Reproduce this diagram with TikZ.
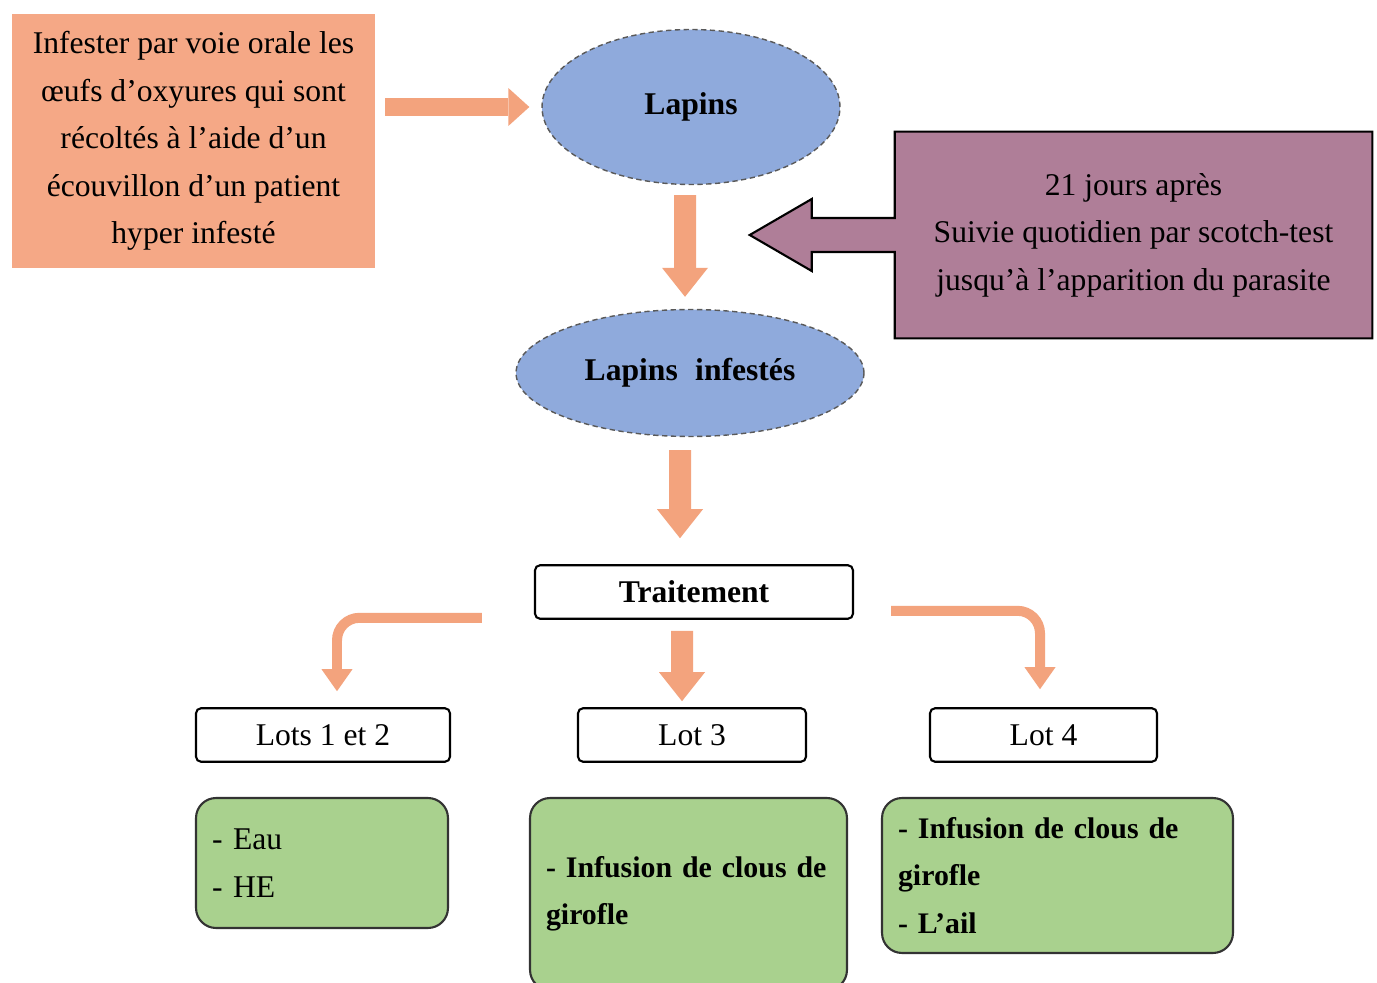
\documentclass[tikz,border=0pt]{standalone}
\usepackage{fontspec}
\setmainfont{Liberation Serif}
\usetikzlibrary{arrows.meta,shapes.geometric}

\definecolor{salmon}{HTML}{F5A886}
\definecolor{arrowfill}{HTML}{F3A37D}
\definecolor{bluefill}{HTML}{8FAADC}
\definecolor{mauve}{HTML}{AF7E98}
\definecolor{leaf}{HTML}{A9D18E}

\tikzset{
  txt/.style={font=\fontsize{18}{27}\selectfont},
  rabbit/.style={ellipse, fill=bluefill, draw=gray!70!black, densely dashed, line width=0.8pt, font=\fontsize{18}{27}\selectfont\bfseries},
  stagebox/.style={txt, rectangle, rounded corners=0.1cm, draw=black, line width=1.2pt, fill=white, minimum height=1.07cm},
  dosebox/.style={txt, rectangle, rounded corners=0.4cm, draw=black!80, line width=1.2pt, fill=leaf, align=left, inner sep=0.32cm},
  bigarrow/.style={draw=arrowfill, line width=0.44cm, -{Triangle[width=0.92cm, length=0.58cm, line width=0pt]}},
  sidearrow/.style={draw=arrowfill, line width=0.36cm, -{Triangle[width=0.76cm, length=0.42cm, line width=0pt]}},
  bentarrow/.style={draw=arrowfill, line width=0.2cm, rounded corners=0.45cm, -{Triangle[width=0.62cm, length=0.44cm, line width=0pt]}}
}

\begin{document}
\begin{tikzpicture}[x=0.02cm, y=-0.02cm]
  % Page frame
  \useasboundingbox (0,0) rectangle (1377,983);
  \fill[white] (0,0) rectangle (1377,983);

  % Inoculation box
  \node[txt, fill=salmon, minimum width=7.26cm, minimum height=5.08cm, align=center] (inoc) at (193.5,141)
    {Infester par voie orale les\\œufs d’oxyures qui sont\\récoltés à l’aide d’un\\écouvillon d’un patient\\hyper infesté};

  % Rabbits before and after
  \node[rabbit, minimum width=5.96cm, minimum height=3.1cm] (lapins) at (691,107) {Lapins};
  \node[rabbit, minimum width=6.96cm, minimum height=2.54cm] (infectes) at (690,373) {Lapins\hspace{0.3em} infestés};

  % Follow-up callout
  \node[minimum width=9.54cm, minimum height=4.12cm] (suivi) at (1133.5,235) {};
  \draw[fill=mauve, line width=1.2pt] (suivi.north west) -- (suivi.north east) -- (suivi.south east) -- (suivi.south west)
    -- ([yshift=-0.34cm]suivi.west) -- ([xshift=-1.66cm,yshift=-0.34cm]suivi.west) -- ([xshift=-1.66cm,yshift=-0.72cm]suivi.west)
    -- ([xshift=-2.9cm]suivi.west)
    -- ([xshift=-1.66cm,yshift=0.72cm]suivi.west) -- ([xshift=-1.66cm,yshift=0.34cm]suivi.west) -- ([yshift=0.34cm]suivi.west) -- cycle;
  \node[txt, align=center] (suivitxt) at (suivi.center) {21 jours après\\Suivie quotidien par scotch-test\\jusqu’à l’apparition du parasite};

  % Treatment and lots
  \node[stagebox, minimum width=6.36cm, font=\fontsize{18}{27}\selectfont\bfseries] (trait) at (694,592) {Traitement};
  \foreach \name/\x/\w/\lbl in {lotA/323/5.08/Lots 1 et 2, lotB/692/4.56/Lot 3, lotC/1043.5/4.54/Lot 4}
    \node[stagebox, minimum width=\w cm] (\name) at (\x,735) {\lbl};

  % What each lot receives
  \node[dosebox, minimum width=5.04cm, minimum height=2.6cm, text width=4.4cm] (doseA) at (322,863) {- Eau\\- HE};
  \node[dosebox, minimum width=6.34cm, minimum height=3.84cm, text width=5.7cm, font=\fontsize{17}{27}\selectfont\bfseries] (doseB) at (688.5,894)
    {- Infusion de clous de\\girofle};
  \node[dosebox, minimum width=7.02cm, minimum height=3.1cm, text width=6.38cm, font=\fontsize{17}{27}\selectfont\bfseries] (doseC) at (1057.5,875.5)
    {- Infusion de clous de\\girofle\\- L’ail};

  % Arrows
  \draw[sidearrow, shorten <=0.2cm, shorten >=0.24cm] (inoc.east |- lapins.west) -- (lapins.west);
  \draw[bigarrow, shorten <=0.2cm, shorten >=0.24cm] ([xshift=-0.12cm]lapins.south) -- ([xshift=-0.1cm]infectes.north);
  \draw[bigarrow, shorten <=0.26cm, shorten >=0.52cm] ([xshift=-0.2cm]infectes.south) -- ([xshift=-0.28cm]trait.north);
  \draw[bigarrow, shorten <=0.22cm, shorten >=0.12cm] ([xshift=-0.24cm]trait.south) -- ([xshift=-0.2cm]lotB.north);
  \draw[bentarrow] ([xshift=-1.04cm,yshift=0.04cm]trait.south west) -| ([xshift=0.28cm,yshift=0.32cm]lotA.north);
  \draw[bentarrow] ([xshift=0.74cm,yshift=0.18cm]trait.south east) -| ([xshift=-0.07cm,yshift=0.36cm]lotC.north);
\end{tikzpicture}
\end{document}
